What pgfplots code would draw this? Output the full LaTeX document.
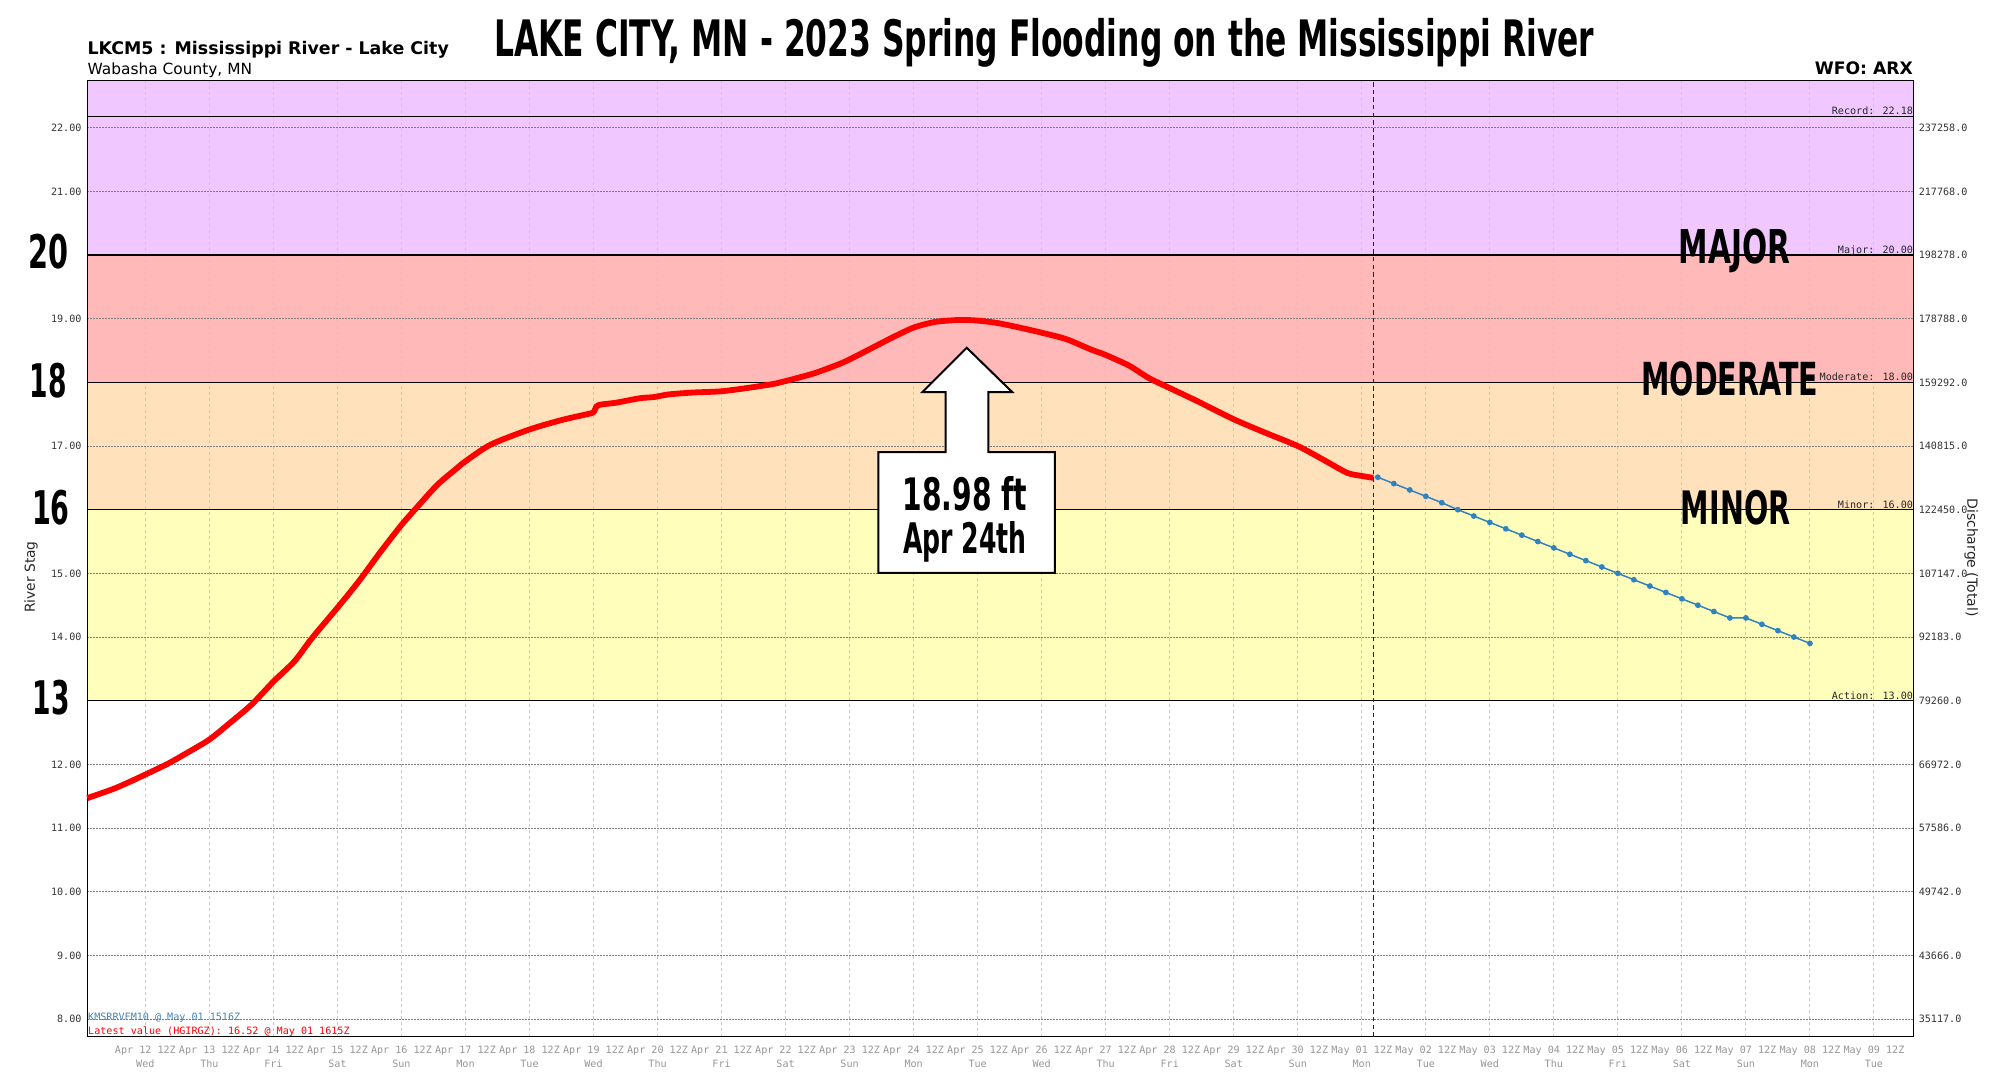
\documentclass[border=0pt]{standalone}
\usepackage{pgfplots}
\pgfplotsset{compat=1.18}
\usepackage{graphicx}
\usepackage{fontspec}
\setmainfont{DejaVu Sans}
\newfontfamily\monof{DejaVu Sans Mono}
\definecolor{bandpurple}{RGB}{240,200,255}
\definecolor{bandred}{RGB}{255,185,185}
\definecolor{bandorange}{RGB}{255,225,188}
\definecolor{bandyellow}{RGB}{255,255,187}
\definecolor{fcblue}{RGB}{49,130,189}
\definecolor{obsred}{RGB}{255,0,0}
\definecolor{ticklab}{RGB}{51,51,51}
\definecolor{xlab}{RGB}{150,150,150}
\definecolor{xgrid}{RGB}{200,200,200}
\definecolor{ygrid}{RGB}{125,125,125}
\definecolor{steel}{RGB}{70,130,180}
\newcommand{\osw}[3]{\resizebox{#1}{#2}{\bfseries #3}}
\newcommand{\smallmono}{\fontsize{5.05}{6.65}\selectfont\monof}
\pgfplotsset{myax/.style={at={(43.65pt,26.2pt)}, anchor=south west,
  width=913pt, height=478.05pt, scale only axis,
  xmin=-0.407, xmax=28.115, ymin=7.724, ymax=22.741,
  major tick length=0pt, minor tick num=0,
  /pgf/number format/assume math mode=true}}
\begin{document}
\begin{tikzpicture}
\path[use as bounding box] (0,0) rectangle (1000pt,544.5pt);
% background bands and discharge axis
\begin{axis}[myax, axis x line=none, axis y line*=right,
  axis line style={draw=none},
  ytick={8,9,10,11,12,13,14,15,16,17,18,19,20,21,22},
  yticklabels={35117.0,43666.0,49742.0,57586.0,66972.0,79260.0,92183.0,107147.0,122450.0,140815.0,159292.0,178788.0,198278.0,217768.0,237258.0},
  yticklabel style={font=\smallmono, text=ticklab, xshift=-0.8pt}]
\fill[bandpurple] (axis cs:-0.407,20) rectangle (axis cs:28.115,22.741);
\fill[bandred] (axis cs:-0.407,18) rectangle (axis cs:28.115,20);
\fill[bandorange] (axis cs:-0.407,16) rectangle (axis cs:28.115,18);
\fill[bandyellow] (axis cs:-0.407,13) rectangle (axis cs:28.115,16);
\end{axis}
% main axis
\begin{axis}[myax, clip=false,
  axis line style={line width=0.75pt, black},
  xtick={0.5,1.5,...,27.5},
  xticklabels={{Apr 12 12Z\\Wed},{Apr 13 12Z\\Thu},{Apr 14 12Z\\Fri},{Apr 15 12Z\\Sat},{Apr 16 12Z\\Sun},{Apr 17 12Z\\Mon},{Apr 18 12Z\\Tue},{Apr 19 12Z\\Wed},{Apr 20 12Z\\Thu},{Apr 21 12Z\\Fri},{Apr 22 12Z\\Sat},{Apr 23 12Z\\Sun},{Apr 24 12Z\\Mon},{Apr 25 12Z\\Tue},{Apr 26 12Z\\Wed},{Apr 27 12Z\\Thu},{Apr 28 12Z\\Fri},{Apr 29 12Z\\Sat},{Apr 30 12Z\\Sun},{May 01 12Z\\Mon},{May 02 12Z\\Tue},{May 03 12Z\\Wed},{May 04 12Z\\Thu},{May 05 12Z\\Fri},{May 06 12Z\\Sat},{May 07 12Z\\Sun},{May 08 12Z\\Mon},{May 09 12Z\\Tue}},
  xticklabel style={font=\smallmono, text=xlab, align=center, yshift=-1.4pt},
  ytick={8,9,10,11,12,13,14,15,16,17,18,19,20,21,22},
  yticklabels={8.00,9.00,10.00,11.00,12.00,{},14.00,15.00,{},17.00,{},19.00,{},21.00,22.00},
  yticklabel style={font=\smallmono, text=ticklab, xshift=0.6pt},
  xmajorgrids, ymajorgrids,
  major x grid style={xgrid, line width=0.5pt, dash pattern=on 1.5pt off 1.5pt},
  major y grid style={ygrid, line width=0.5pt, dash pattern=on 0.6pt off 0.9pt}]
% threshold lines
\draw[black, line width=0.6pt] (axis cs:-0.407,22.18) -- (axis cs:28.115,22.18);
\draw[black, line width=0.6pt] (axis cs:-0.407,20) -- (axis cs:28.115,20);
\draw[black, line width=0.6pt] (axis cs:-0.407,18) -- (axis cs:28.115,18);
\draw[black, line width=0.6pt] (axis cs:-0.407,16) -- (axis cs:28.115,16);
\draw[black, line width=0.6pt] (axis cs:-0.407,13) -- (axis cs:28.115,13);
\node[anchor=base east, inner sep=0, font=\smallmono, text=black!85, yshift=0.7pt] at (axis cs:28.115,22.18) {Record: 22.18};
\node[anchor=base east, inner sep=0, font=\smallmono, text=black!85, yshift=0.7pt] at (axis cs:28.115,20) {Major: 20.00};
\node[anchor=base east, inner sep=0, font=\smallmono, text=black!85, yshift=0.7pt] at (axis cs:28.115,18) {Moderate: 18.00};
\node[anchor=base east, inner sep=0, font=\smallmono, text=black!85, yshift=0.7pt] at (axis cs:28.115,16) {Minor: 16.00};
\node[anchor=base east, inner sep=0, font=\smallmono, text=black!85, yshift=0.7pt] at (axis cs:28.115,13) {Action: 13.00};
% observed stage
\addplot[obsred, line width=2.9pt, line join=round, line cap=butt, smooth, tension=0.45] table {
x y
-0.407 11.47
0.04 11.63
0.50 11.84
0.87 12.02
1.15 12.18
1.50 12.39
1.82 12.65
2.16 12.94
2.50 13.30
2.83 13.62
3.10 13.98
3.50 14.46
3.83 14.87
4.16 15.32
4.50 15.76
4.78 16.08
5.06 16.39
5.34 16.63
5.50 16.76
5.89 17.02
6.50 17.26
7.01 17.41
7.40 17.50
7.50 17.53
7.57 17.64
7.85 17.68
8.22 17.75
8.45 17.77
8.67 17.81
9.05 17.84
9.50 17.86
9.96 17.92
10.34 17.98
10.50 18.02
10.94 18.14
11.32 18.28
11.50 18.36
11.85 18.54
12.16 18.70
12.50 18.86
12.84 18.95
13.22 18.98
13.50 18.97
13.82 18.93
14.20 18.85
14.50 18.78
14.88 18.68
15.26 18.52
15.50 18.43
15.87 18.26
16.17 18.07
16.50 17.91
16.92 17.71
17.50 17.42
17.99 17.21
18.50 17.00
18.89 16.79
19.27 16.58
19.50 16.53
19.68 16.50
};
% forecast
\addplot[fcblue, line width=0.75pt, mark=*, mark size=1.05pt, mark options={fill=fcblue, draw=fcblue}] table {
x y
19.75 16.51
20.00 16.41
20.25 16.31
20.50 16.21
20.75 16.11
21.00 16.00
21.25 15.90
21.50 15.80
21.75 15.70
22.00 15.60
22.25 15.50
22.50 15.40
22.75 15.30
23.00 15.20
23.25 15.10
23.50 15.00
23.75 14.90
24.00 14.80
24.25 14.70
24.50 14.60
24.75 14.50
25.00 14.40
25.25 14.30
25.50 14.30
25.75 14.20
26.00 14.10
26.25 14.00
26.50 13.90
};
% current time
\draw[black!85, line width=0.6pt, dash pattern=on 2.2pt off 1.6pt] (axis cs:19.677,7.724) -- (axis cs:19.677,22.741);
% category labels
\node[inner sep=0] at (axis cs:25.32,20.059) {\osw{55.7pt}{17.3pt}{MAJOR}};
\node[inner sep=0] at (axis cs:25.25,18.056) {\osw{88.4pt}{16.9pt}{MODERATE}};
\node[inner sep=0] at (axis cs:25.34,16.035) {\osw{54.7pt}{17.1pt}{MINOR}};
% callout
\draw[fill=white, line width=1pt, line join=miter]
 (axis cs:13.33,18.543) -- (axis cs:14.041,17.846) -- (axis cs:13.666,17.846) -- (axis cs:13.666,16.904)
 -- (axis cs:14.708,16.904) -- (axis cs:14.708,15.009) -- (axis cs:11.948,15.009) -- (axis cs:11.948,16.904)
 -- (axis cs:13.001,16.904) -- (axis cs:13.001,17.846) -- (axis cs:12.636,17.846) -- cycle;
\node[anchor=base, inner sep=0] at (axis cs:13.3,15.988) {\osw{62.3pt}{17pt}{18.98 ft}};
\node[anchor=base, inner sep=0] at (axis cs:13.3,15.308) {\osw{61.8pt}{16pt}{Apr 24th}};
\end{axis}
% header texts
\node[anchor=base west, inner sep=0] at (247pt,516.15pt) {\osw{550pt}{19.08pt}{LAKE CITY, MN - 2023 Spring Flooding on the Mississippi River}};
\node[anchor=base west, inner sep=0, font=\fontsize{8.7}{10}\selectfont\bfseries] at (43.6pt,517pt) {LKCM5 : Mississippi River - Lake City};
\node[anchor=base west, inner sep=0, font=\fontsize{7.7}{9}\selectfont] at (43.6pt,507.3pt) {Wabasha County, MN};
\node[anchor=base east, inner sep=0, font=\fontsize{8.6}{10}\selectfont\bfseries] at (956.65pt,507pt) {WFO: ARX};
% axis titles
\node[rotate=90, inner sep=0, font=\fontsize{6.9}{8}\selectfont, text=black!85] at (15.5pt,256pt) {River Stag};
\node[rotate=-90, inner sep=0, font=\fontsize{7}{8}\selectfont, text=black!85] at (985.6pt,265.75pt) {Discharge (Total)};
% big stage numbers
\node[anchor=east, inner sep=0] at (34.6pt,418.9pt) {\osw{20pt}{17.2pt}{20}};
\node[anchor=east, inner sep=0] at (33.6pt,354.35pt) {\osw{18.5pt}{17.2pt}{18}};
\node[anchor=east, inner sep=0] at (35pt,290.7pt) {\osw{18.8pt}{17.2pt}{16}};
\node[anchor=east, inner sep=0] at (35pt,195.5pt) {\osw{18.5pt}{17.2pt}{13}};
% footnotes
\node[anchor=base west, inner sep=0, font=\smallmono, text=steel] at (43.9pt,34.15pt) {KMSRRVFM10 @ May 01 1516Z};
\node[anchor=base west, inner sep=0, font=\smallmono, text=obsred] at (43.9pt,27.5pt) {Latest value (HGIRGZ): 16.52 @ May 01 1615Z};
\end{tikzpicture}
\end{document}
